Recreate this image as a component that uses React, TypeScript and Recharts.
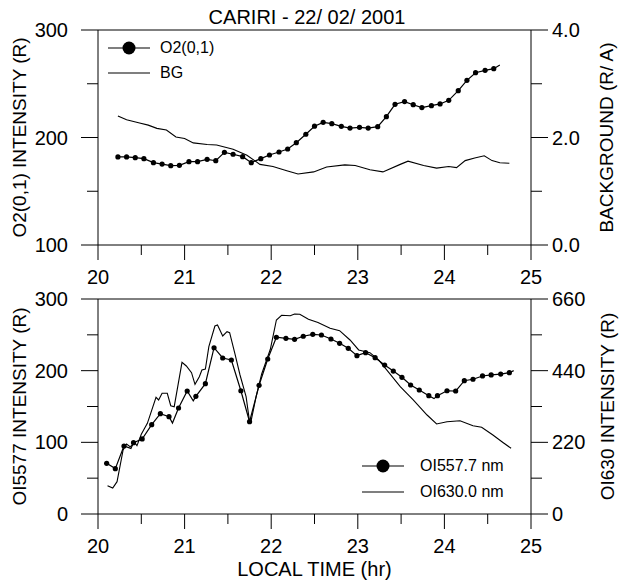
import { LineChart, Line, XAxis, YAxis, ReferenceLine, Legend } from "recharts";

const FONT = "Arial, 'Liberation Sans', sans-serif";

// upper panel: O2(0,1) samples (dots) and background
const o2Time = [
  20.23, 20.33, 20.43, 20.53, 20.64, 20.74, 20.84, 20.94, 21.05, 21.15, 21.26,
  21.36, 21.46, 21.56, 21.67, 21.77, 21.88, 21.98, 22.09, 22.19, 22.29, 22.4,
  22.5, 22.6, 22.7, 22.81, 22.91, 23.02, 23.12, 23.23, 23.33, 23.43, 23.54,
  23.64, 23.74, 23.85, 23.95, 24.05, 24.16, 24.26, 24.36, 24.47, 24.57,
];
const o2Value = [
  181.9, 181.9, 181.2, 180.3, 176.6, 175.3, 173.8, 174.1, 177.5, 177.5, 179.7,
  178.4, 186.2, 184.4, 182.2, 176.6, 180.3, 183.7, 186.5, 189.3, 195.2, 203.0,
  210.5, 214.1, 212.9, 210.4, 208.8, 209.5, 208.8, 210.1, 219.4, 230.9, 233.4,
  230.5, 227.8, 229.6, 231.2, 234.6, 243.6, 253.2, 260.3, 262.5, 264.0,
];
// trace points without a marker
const o2TraceTime = [24.64];
const o2TraceValue = [267.4];

const bgTime = [
  20.23, 20.33, 20.48, 20.58, 20.68, 20.79, 20.9, 21.0, 21.1, 21.26, 21.37,
  21.56, 21.72, 21.87, 22.02, 22.18, 22.31, 22.49, 22.64, 22.85, 22.97, 23.14,
  23.29, 23.49, 23.58, 23.76, 23.91, 24.05, 24.14, 24.24, 24.35, 24.46, 24.55,
  24.64, 24.75,
];
const bgValue = [
  2.4, 2.33, 2.27, 2.23, 2.17, 2.14, 2.01, 1.98, 1.9, 1.87, 1.86, 1.78, 1.67,
  1.5, 1.46, 1.38, 1.32, 1.36, 1.45, 1.49, 1.48, 1.4, 1.36, 1.5, 1.56, 1.48,
  1.43, 1.46, 1.44, 1.57, 1.62, 1.66, 1.57, 1.53, 1.52,
];

// lower panel: OI557.7 samples (dots) and OI630.0
const oi557Time = [
  20.1, 20.2, 20.3, 20.41, 20.51, 20.62, 20.72, 20.82, 20.93, 21.03, 21.13,
  21.24, 21.34, 21.44, 21.54, 21.65, 21.75, 21.86, 21.96, 22.06, 22.17, 22.27,
  22.37, 22.48, 22.58, 22.69, 22.79, 22.89, 22.99, 23.09, 23.2, 23.31, 23.41,
  23.51, 23.61, 23.71, 23.82, 23.92, 24.03, 24.13, 24.23, 24.33, 24.44, 24.54,
  24.65, 24.75,
];
const oi557Value = [
  70.7, 63.3, 94.9, 99.5, 104.7, 124.6, 140.0, 135.8, 147.9, 171.6, 164.2,
  181.8, 232.0, 217.7, 214.9, 172.0, 128.8, 179.6, 216.3, 246.6, 245.1, 243.7,
  248.0, 250.7, 249.8, 244.2, 238.2, 231.2, 220.9, 225.1, 218.1, 207.9, 199.5,
  190.7, 180.0, 173.0, 165.1, 165.1, 172.0, 171.6, 186.0, 188.0, 192.6, 194.0,
  195.3, 197.2,
];
const oi557TraceTime = [20.38, 20.86, 21.1, 23.88, 24.8];
const oi557TraceValue = [91.5, 127, 158, 161, 200];

const oi630Time = [
  20.11, 20.17, 20.22, 20.29, 20.33, 20.37, 20.43, 20.45, 20.5, 20.57, 20.67,
  20.7, 20.74, 20.8, 20.84, 20.88, 20.97, 21.02, 21.08, 21.12, 21.17, 21.2,
  21.24, 21.28, 21.35, 21.38, 21.44, 21.49, 21.52, 21.58, 21.64, 21.71, 21.75,
  21.77, 21.83, 21.89, 21.99, 22.06, 22.12, 22.22, 22.27, 22.33, 22.43, 22.54,
  22.68, 22.79, 22.91, 23.01, 23.14, 23.24, 23.35, 23.49, 23.64, 23.8, 23.91,
  24.03, 24.18, 24.33, 24.43, 24.56, 24.68, 24.77,
];
const oi630Value = [
  86.9, 79.8, 99.2, 196.5, 214.9, 206.6, 217.0, 209.7, 244.7, 278.4, 358.2,
  350.0, 370.5, 370.5, 332.5, 329.4, 465.7, 454.4, 433.8, 398.2, 421.5, 442.1,
  445.2, 513.6, 577.2, 580.2, 546.5, 559.7, 556.6, 493.4, 426.7, 360.1, 283.4,
  288.6, 365.3, 429.8, 505.6, 595.6, 610.0, 608.8, 614.0, 613.0, 597.7, 588.0,
  570.0, 562.7, 534.2, 503.5, 495.2, 472.8, 436.9, 390.8, 350.0, 303.9, 276.3,
  283.4, 286.4, 271.1, 266.2, 242.5, 218.9, 201.7,
];

const hourTicks = [20, 20.5, 21, 21.5, 22, 22.5, 23, 23.5, 24, 24.5, 25];
const o2Ticks = [100, 150, 200, 250, 300];
const o2Major = [100, 200, 300];
const bgTicks = [0, 1, 2, 3, 4];
const bgMajor = [0, 2, 4];
const oi557Ticks = [0, 50, 100, 150, 200, 250, 300];
const oi557Major = [0, 100, 200, 300];
const oi630Ticks = [0, 110, 220, 330, 440, 550, 660];
const oi630Major = [0, 220, 440, 660];

type Pt = { t: number; v: number; dot: boolean };

const merge = (t: number[], v: number[], tt: number[] = [], tv: number[] = []): Pt[] =>
  [
    ...t.map((x, i) => ({ t: x, v: v[i], dot: true })),
    ...tt.map((x, i) => ({ t: x, v: tv[i], dot: false })),
  ].sort((a, b) => a.t - b.t);

const o2Data = merge(o2Time, o2Value, o2TraceTime, o2TraceValue);
const bgData = merge(bgTime, bgValue).map((p) => ({ ...p, dot: false }));
const oi557Data = merge(oi557Time, oi557Value, oi557TraceTime, oi557TraceValue);
const oi630Data = merge(oi630Time, oi630Value).map((p) => ({ ...p, dot: false }));

const renderDot = (p: any) =>
  p.payload && p.payload.dot ? (
    <circle key={`d${p.index}`} cx={p.cx} cy={p.cy} r={2.6} fill="#000" />
  ) : (
    <g key={`d${p.index}`} />
  );

const XTick = (props: any) => {
  const { x, y, payload } = props;
  const major = Number.isInteger(payload.value);
  return (
    <g>
      <line x1={x} x2={x} y1={y} y2={y + (major ? 15 : 10)} stroke="#000" />
      {major && (
        <text x={x} y={y + 39} textAnchor="middle" fontSize={20} fontFamily={FONT} fill="#000">
          {payload.value}
        </text>
      )}
    </g>
  );
};

const makeYTick =
  (side: "left" | "right", majors: number[], fmt: (v: number) => string) =>
  (props: any) => {
    const { x, y, payload } = props;
    const major = majors.includes(payload.value);
    const dir = side === "left" ? -1 : 1;
    return (
      <g>
        <line x1={x} x2={x + dir * (major ? 17 : 11)} y1={y} y2={y} stroke="#000" />
        {major && (
          <text
            x={side === "left" ? x - 30 : x + 21}
            y={y + 7}
            textAnchor={side === "left" ? "end" : "start"}
            fontSize={20}
            fontFamily={FONT}
            fill="#000"
          >
            {fmt(payload.value)}
          </text>
        )}
      </g>
    );
  };

const LegendBox = ({ rows, gap, rowH }: { rows: { label: string; dot: boolean }[]; gap: number; rowH: number }) => (
  <div style={{ fontFamily: FONT, fontSize: 16, color: "#000" }}>
    {rows.map((r) => (
      <div key={r.label} style={{ display: "flex", alignItems: "center", height: rowH }}>
        <svg width={42} height={16} style={{ display: "block" }}>
          <line x1={0} x2={42} y1={8} y2={8} stroke="#000" strokeWidth={1.2} />
          {r.dot && <circle cx={21} cy={8} r={6.5} fill="#000" />}
        </svg>
        <span style={{ marginLeft: gap, whiteSpace: "nowrap" }}>{r.label}</span>
      </div>
    ))}
  </div>
);

const axisLabel = { fontSize: 19, fill: "#000", fontFamily: FONT };
const lineColor = "#000";

export default function App() {
  return (
    <div style={{ position: "absolute", left: 0, top: 0, width: 621, height: 586, background: "#fff" }}>
      <div
        style={{
          position: "absolute",
          left: 0,
          top: 5,
          width: 614,
          textAlign: "center",
          fontFamily: FONT,
          fontSize: 20,
          lineHeight: "24px",
          color: "#000",
        }}
      >
        CARIRI - 22/ 02/ 2001
      </div>

      <div style={{ position: "absolute", left: 0, top: 0 }}>
        <LineChart width={621} height={290} margin={{ top: 30, right: 0, bottom: 0, left: 0 }}>
          <XAxis
            dataKey="t"
            type="number"
            domain={[20, 25]}
            ticks={hourTicks}
            interval={0}
            allowDataOverflow
            height={45}
            tickSize={0}
            tickMargin={0}
            tick={<XTick />}
            axisLine={{ stroke: "#000" }}
          />
          <YAxis
            yAxisId="left"
            domain={[100, 300]}
            ticks={o2Ticks}
            interval={0}
            width={98}
            tickSize={0}
            tickMargin={0}
            tick={makeYTick("left", o2Major, (v) => String(v))}
            axisLine={{ stroke: "#000" }}
            label={{ value: "O2(0,1) INTENSITY (R)", angle: -90, position: "center", dx: -30, ...axisLabel }}
          />
          <YAxis
            yAxisId="right"
            orientation="right"
            domain={[0, 4]}
            ticks={bgTicks}
            interval={0}
            width={90}
            tickSize={0}
            tickMargin={0}
            tick={makeYTick("right", bgMajor, (v) => v.toFixed(1))}
            axisLine={{ stroke: "#000" }}
            label={{ value: "BACKGROUND (R/ A)", angle: -90, position: "center", dx: 30, ...axisLabel }}
          />
          <ReferenceLine yAxisId="left" y={300} stroke="#000" />
          <Line
            yAxisId="left"
            data={o2Data}
            dataKey="v"
            stroke={lineColor}
            strokeWidth={1.2}
            dot={renderDot}
            activeDot={false}
            isAnimationActive={false}
          />
          <Line
            yAxisId="right"
            data={bgData}
            dataKey="v"
            stroke={lineColor}
            strokeWidth={1.1}
            dot={false}
            activeDot={false}
            isAnimationActive={false}
          />
          <Legend
            layout="vertical"
            align="center"
            verticalAlign="middle"
            wrapperStyle={{ left: 108, top: 35.5, width: "auto" }}
            content={() => (
              <LegendBox
                gap={10}
                rowH={25}
                rows={[
                  { label: "O2(0,1)", dot: true },
                  { label: "BG", dot: false },
                ]}
              />
            )}
          />
        </LineChart>
      </div>

      <div style={{ position: "absolute", left: 0, top: 269 }}>
        <LineChart width={621} height={317} margin={{ top: 30, right: 0, bottom: 0, left: 0 }}>
          <XAxis
            dataKey="t"
            type="number"
            domain={[20, 25]}
            ticks={hourTicks}
            interval={0}
            allowDataOverflow
            height={72}
            tickSize={0}
            tickMargin={0}
            tick={<XTick />}
            axisLine={{ stroke: "#000" }}
            label={{ value: "LOCAL TIME (hr)", position: "insideBottom", offset: 10, fontSize: 20, fill: "#000", fontFamily: FONT }}
          />
          <YAxis
            yAxisId="left"
            domain={[0, 300]}
            ticks={oi557Ticks}
            interval={0}
            width={98}
            tickSize={0}
            tickMargin={0}
            tick={makeYTick("left", oi557Major, (v) => String(v))}
            axisLine={{ stroke: "#000" }}
            label={{ value: "OI5577 INTENSITY (R)", angle: -90, position: "center", dx: -30, ...axisLabel }}
          />
          <YAxis
            yAxisId="right"
            orientation="right"
            domain={[0, 660]}
            ticks={oi630Ticks}
            interval={0}
            width={90}
            tickSize={0}
            tickMargin={0}
            tick={makeYTick("right", oi630Major, (v) => String(v))}
            axisLine={{ stroke: "#000" }}
            label={{ value: "OI630 INTENSITY (R)", angle: -90, position: "center", dx: 31, ...axisLabel }}
          />
          <ReferenceLine yAxisId="left" y={300} stroke="#000" />
          <Line
            yAxisId="left"
            data={oi557Data}
            dataKey="v"
            stroke={lineColor}
            strokeWidth={1.2}
            dot={renderDot}
            activeDot={false}
            isAnimationActive={false}
          />
          <Line
            yAxisId="right"
            data={oi630Data}
            dataKey="v"
            stroke={lineColor}
            strokeWidth={1.1}
            dot={false}
            activeDot={false}
            isAnimationActive={false}
          />
          <Legend
            layout="vertical"
            align="center"
            verticalAlign="middle"
            wrapperStyle={{ left: 362, top: 184, width: "auto" }}
            content={() => (
              <LegendBox
                gap={16}
                rowH={26}
                rows={[
                  { label: "OI557.7 nm", dot: true },
                  { label: "OI630.0 nm", dot: false },
                ]}
              />
            )}
          />
        </LineChart>
      </div>
    </div>
  );
}
